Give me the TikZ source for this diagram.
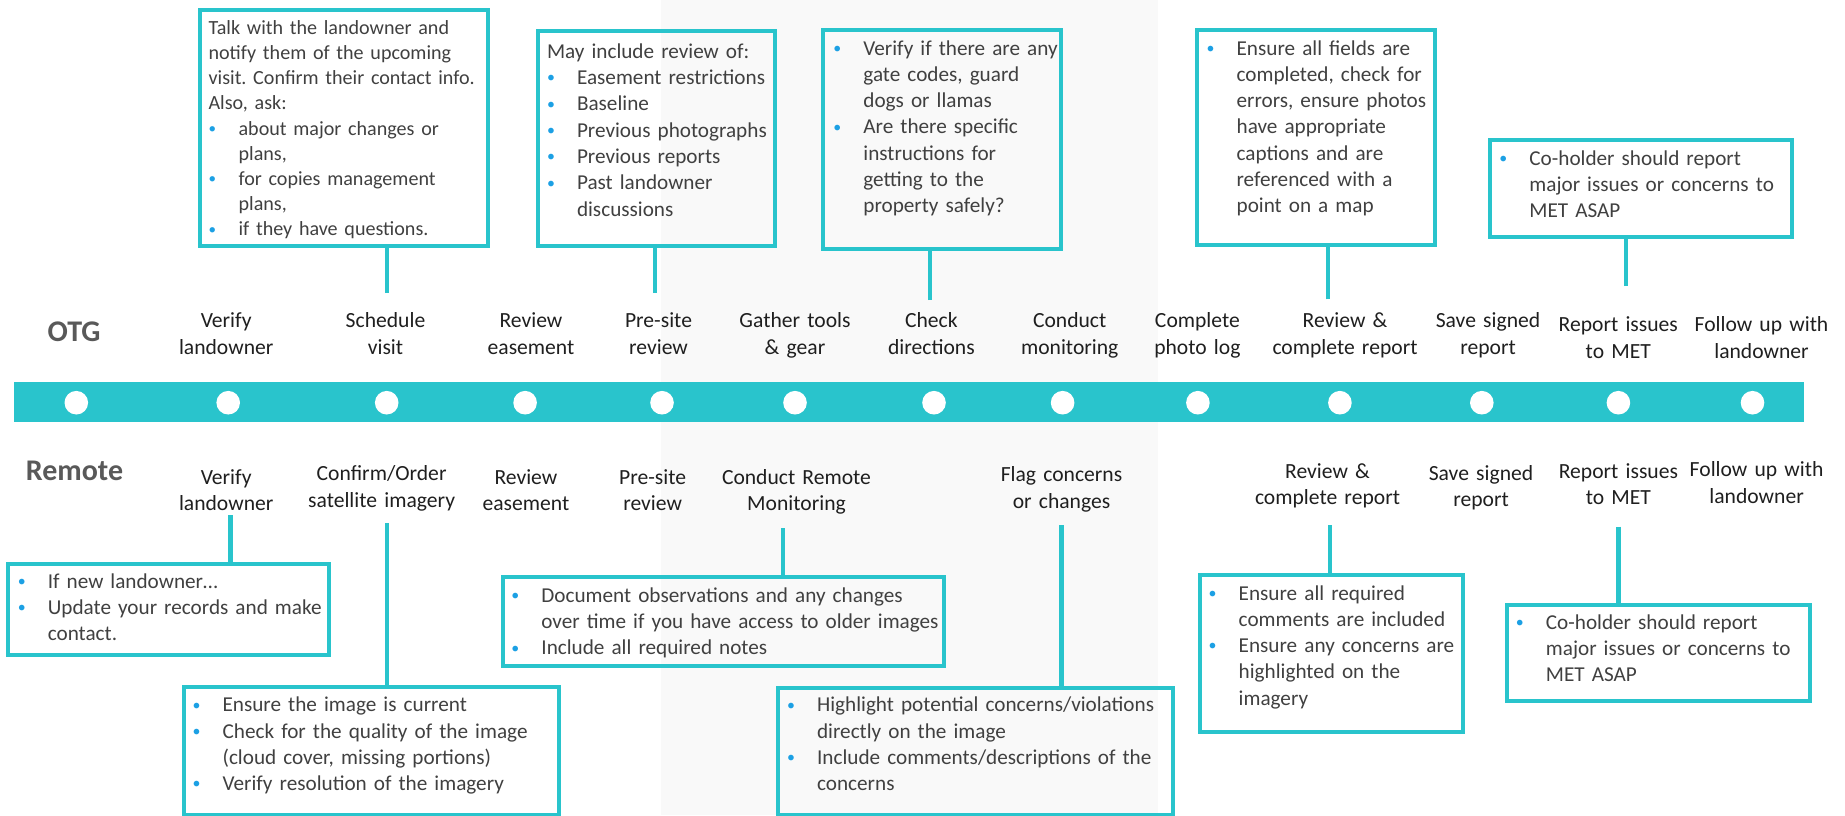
\documentclass[tikz,border=0pt]{standalone}
\usepackage{fontspec}
\setmainfont{Carlito}
\usepackage{graphicx}
\usepackage{xcolor}
\usepackage{tikz}
\usetikzlibrary{positioning,fit,calc}

\definecolor{tealline}{RGB}{41,196,204}
\definecolor{dotblue}{RGB}{28,160,228}
\definecolor{bodygray}{RGB}{64,64,64}
\definecolor{headgray}{RGB}{89,89,89}
\definecolor{panelgray}{RGB}{249,249,249}

\frenchspacing
% bullet at the start of an item, \nl continues the item on an indented line
\newcommand{\bul}{\makebox[15pt][l]{\textcolor{dotblue}{\raisebox{0.08em}{\scalebox{0.75}{\textbullet}}}}}
\newcommand{\nl}{\newline\hspace*{15pt}}

\begin{document}
\begin{tikzpicture}[x=0.5pt, y=-0.5pt,
  frame/.style={draw=tealline, line width=2pt, inner sep=0pt, outer sep=0pt},
  note/.style={anchor=base west, text width=245pt, align=left, inner sep=0pt, text=bodygray, font=\fontsize{10.6}{13.15}\selectfont},
  stage/.style={anchor=base, text width=90pt, align=center, inner sep=0pt, text=black!88, font=\fontsize{10.8}{13.15}\selectfont},
  lane/.style={anchor=base, inner sep=0pt, text=headgray, font=\fontsize{15}{18}\selectfont\bfseries},
  link/.style={draw=tealline, line width=2.1pt}]

  \useasboundingbox (0,0) rectangle (1845,815);
  % shaded middle section
  \fill[panelgray] (660.5,0) rectangle (1157.5,815);

  % timeline band and stops
  \fill[tealline] (13.8,381.7) rectangle (1803.9,421.7);
  \foreach \x in {76.3,228.2,386.7,525.1,662,795,934,1062.6,1197.9,1339.9,1481.8,1618.4,1752.5}
    \fill[white] (\x,402.7) circle (11.8);

  \node [lane] (otg) at (74.1,341.7) {OTG};
  \node [lane] (remote) at (74.5,480) {Remote};

  % on-the-ground steps
  \node [stage] (overify) at (226.2,327.7) {Verify\\landowner};
  \node [stage] (osched) at (385.5,327.7) {Schedule\\visit};
  \node [stage] (oease) at (531,327.7) {Review\\easement};
  \node [stage] (opresite) at (658.5,327.7) {Pre-site\\review};
  \node [stage] (ogather) at (795,327.7) {Gather tools\\\& gear};
  \node [stage] (odirs) at (931.4,327.7) {Check\\directions};
  \node [stage] (omonitor) at (1069.7,327.7) {Conduct\\monitoring};
  \node [stage] (ophoto) at (1197.4,327.7) {Complete\\photo log};
  \node [stage] (oreport) at (1345,327.7) {Review \&\\complete report};
  \node [stage] (osave) at (1488,327.7) {Save signed\\report};
  \node [stage] (oissues) at (1618.3,331.7) {Report issues\\to MET};
  \node [stage] (ofollow) at (1761.5,331.7) {Follow up with\\landowner};

  % remote steps
  \node [stage] (rverify) at (226.2,484) {Verify\\landowner};
  \node [stage] (rimagery) at (381.6,480.7) {Confirm/Order\\satellite imagery};
  \node [stage] (rease) at (525.9,484.3) {Review\\easement};
  \node [stage] (rpresite) at (652.6,484.3) {Pre-site\\review};
  \node [stage] (rmonitor) at (796.5,484) {Conduct Remote\\Monitoring};
  \node [stage] (rflag) at (1061.5,481.7) {Flag concerns\\or changes};
  \node [stage] (rreport) at (1327.5,478.3) {Review \&\\complete report};
  \node [stage] (rsave) at (1481,480) {Save signed\\report};
  \node [stage] (rissues) at (1618.4,478.3) {Report issues\\to MET};
  \node [stage] (rfollow) at (1756.6,476.7) {Follow up with\\landowner};

  % notes above the band
  \node [frame, fit={(199.7,10.3) (488.3,246.3)}] (bsched) {};
  \node [note, font=\fontsize{10.05}{12.6}\selectfont] at ($(bsched.north west)+(8.5,24)$)
    {Talk with the landowner and\newline notify them of the upcoming\newline visit. Confirm their contact info.\newline
     Also, ask:\newline
     \bul about major changes or\nl plans,\newline
     \bul for copies management\nl plans,\newline
     \bul if they have questions.};

  \node [frame, fit={(537.8,31.3) (774.7,246.3)}] (bpresite) {};
  \node [note] at ($(bpresite.north west)+(8.8,27)$)
    {May include review of:\newline
     \bul Easement restrictions\newline
     \bul Baseline\newline
     \bul Previous photographs\newline
     \bul Previous reports\newline
     \bul Past landowner\nl discussions};

  \node [frame, fit={(823.4,30.3) (1061.4,248.7)}] (bdirs) {};
  \node [note] at ($(bdirs.north west)+(9.6,24.7)$)
    {\bul Verify if there are any\nl gate codes, guard\nl dogs or llamas\newline
     \bul Are there specific\nl instructions for\nl getting to the\nl property safely?};

  \node [frame, fit={(1197,30.3) (1435.4,245.3)}] (breport) {};
  \node [note] at ($(breport.north west)+(9.2,24.7)$)
    {\bul Ensure all fields are\nl completed, check for\nl errors, ensure photos\nl have appropriate\nl captions and are\nl referenced with a\nl point on a map};

  \node [frame, fit={(1490,139.7) (1792.4,237.3)}] (bissues) {};
  \node [note] at ($(bissues.north west)+(9,25.3)$)
    {\bul Co-holder should report\nl major issues or concerns to\nl MET ASAP};

  % notes below the band
  \node [frame, fit={(7.9,563.7) (329,655.3)}] (bverify) {};
  \node [note] at ($(bverify.north west)+(9.5,24.6)$)
    {\bul If new landowner…\newline
     \bul Update your records and make\nl contact.};

  \node [frame, fit={(183.9,687) (558.7,815)}] (bimagery) {};
  \node [note] at ($(bimagery.north west)+(8.3,24.7)$)
    {\bul Ensure the image is current\newline
     \bul Check for the quality of the image\nl (cloud cover, missing portions)\newline
     \bul Verify resolution of the imagery};

  \node [frame, fit={(503.4,577) (944,666.3)}] (bmonitor) {};
  \node [note] at ($(bmonitor.north west)+(7.6,25.3)$)
    {\bul Document observations and any changes\nl over time if you have access to older images\newline
     \bul Include all required notes};

  \node [frame, fit={(778,688) (1173.3,815)}] (bflag) {};
  \node [note] at ($(bflag.north west)+(8.7,23.7)$)
    {\bul Highlight potential concerns/violations\nl directly on the image\newline
     \bul Include comments/descriptions of the\nl concerns};

  \node [frame, fit={(1199.9,575.3) (1462.5,732)}] (brreport) {};
  \node [note] at ($(brreport.north west)+(8.4,24.7)$)
    {\bul Ensure all required\nl comments are included\newline
     \bul Ensure any concerns are\nl highlighted on the\nl imagery};

  \node [frame, fit={(1507.2,604.7) (1809.7,701.3)}] (brissues) {};
  \node [note] at ($(brissues.north west)+(8.3,24.6)$)
    {\bul Co-holder should report\nl major issues or concerns to\nl MET ASAP};

  % stems from the steps to their notes
  \foreach \lbl/\frm/\dx/\dy in {osched/bsched/0.6pt/17.35pt, opresite/bpresite/-1.95pt/17.35pt,
      odirs/bdirs/-0.6pt/13.85pt, oreport/breport/-8.7pt/14.2pt, oissues/bissues/3.7pt/22.85pt}
    \draw [link] ([xshift=\dx, yshift=\dy]\lbl.base) coordinate (tip) -- (tip |- \frm.south);
  \foreach \lbl/\frm/\dx/\dy in {rverify/bverify/2.15pt/-15.5pt, rimagery/bimagery/2.55pt/-21.3pt,
      rmonitor/bmonitor/-6.75pt/-22.15pt, rflag/bflag/0pt/-21.65pt,
      rreport/brreport/1.05pt/-23.35pt, rissues/brissues/0pt/-24.2pt}
    \draw [link] ([xshift=\dx, yshift=\dy]\lbl.base) coordinate (tip) -- (tip |- \frm.north);
\end{tikzpicture}
\end{document}
